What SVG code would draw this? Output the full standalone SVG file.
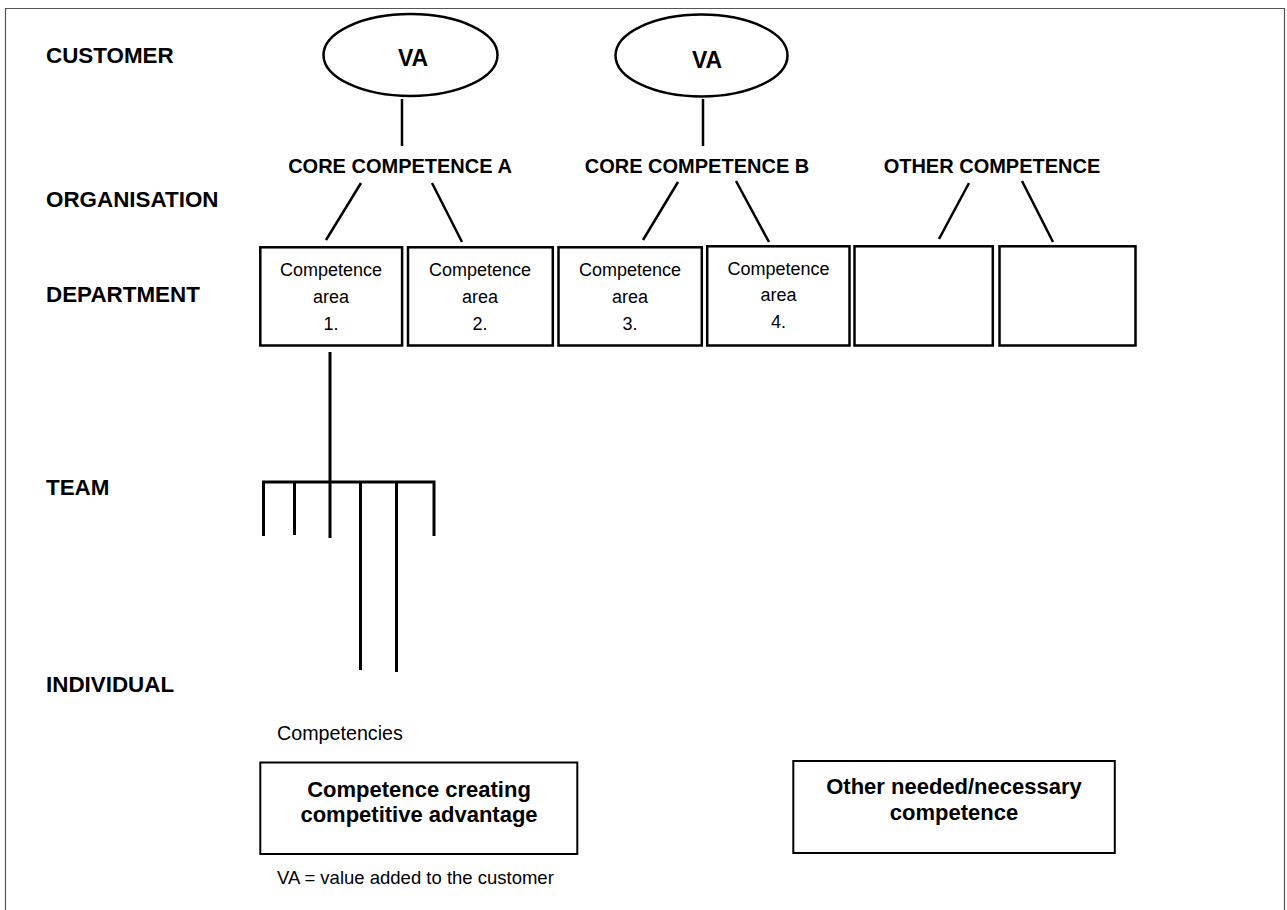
<svg xmlns="http://www.w3.org/2000/svg" width="1287" height="910" viewBox="0 0 1287 910">
  <style>
    .lbl { font-family: "Liberation Sans", Arial, sans-serif; font-weight: bold; font-size: 22.4px; fill: #000; }
    .hdr { font-family: "Liberation Sans", Arial, sans-serif; font-weight: bold; font-size: 20px; fill: #000; text-anchor: middle; }
    .va { font-family: "Liberation Sans", Arial, sans-serif; font-weight: bold; font-size: 23px; fill: #000; text-anchor: middle; }
    .area { font-family: "Liberation Sans", Arial, sans-serif; font-size: 18px; fill: #000; text-anchor: middle; }
    .note { font-family: "Liberation Sans", Arial, sans-serif; font-size: 18.5px; fill: #000; }
    .comp { font-family: "Liberation Sans", Arial, sans-serif; font-size: 19.7px; fill: #000; }
    .big { font-family: "Liberation Sans", Arial, sans-serif; font-weight: bold; font-size: 22px; fill: #000; text-anchor: middle; }
    .box { fill: #fff; stroke: #000; stroke-width: 2.5; }
    .bbox { fill: #fff; stroke: #000; stroke-width: 2; }
    .ell { fill: #fff; stroke: #000; stroke-width: 2.5; }
    .ln { stroke: #000; stroke-width: 2.5; fill: none; }
    .tl { stroke: #000; stroke-width: 3; fill: none; }
  </style>
  <rect x="0" y="0" width="1287" height="910" fill="#fff"/>
  <path d="M5.5 920 V8.5 H1284.5 V920" fill="none" stroke="#555" stroke-width="1.2"/>

  <g id="level-labels">
    <text class="lbl" x="46" y="63">CUSTOMER</text>
    <text class="lbl" x="46" y="207">ORGANISATION</text>
    <text class="lbl" x="46" y="302">DEPARTMENT</text>
    <text class="lbl" x="46" y="495">TEAM</text>
    <text class="lbl" x="46" y="692">INDIVIDUAL</text>
  </g>

  <g id="connectors">
    <line class="ln" x1="402" y1="99" x2="402" y2="146"/>
    <line class="ln" x1="703" y1="99" x2="703" y2="146"/>
    <line class="ln" x1="361" y1="183" x2="326" y2="240"/>
    <line class="ln" x1="432" y1="183" x2="462" y2="242"/>
    <line class="ln" x1="678" y1="182" x2="643" y2="240"/>
    <line class="ln" x1="736" y1="181" x2="769" y2="242"/>
    <line class="ln" x1="969" y1="183" x2="939" y2="239"/>
    <line class="ln" x1="1022" y1="181" x2="1053" y2="242"/>
    <line class="tl" x1="330" y1="352" x2="330" y2="482"/>
    <path class="tl" d="M263.5 536 V482 H434 V536"/>
    <line class="tl" x1="294.5" y1="482" x2="294.5" y2="535"/>
    <line class="tl" x1="330" y1="482" x2="330" y2="538"/>
    <line class="tl" x1="360.5" y1="482" x2="360.5" y2="670"/>
    <line class="tl" x1="396.5" y1="482" x2="396.5" y2="672"/>
  </g>

  <g id="va1">
    <ellipse class="ell" cx="410.5" cy="55" rx="87" ry="41"/>
    <text class="va" x="413" y="66">VA</text>
  </g>
  <g id="va2">
    <ellipse class="ell" cx="701.5" cy="55.5" rx="86" ry="41"/>
    <text class="va" x="707" y="68">VA</text>
  </g>

  <g id="core-a"><text class="hdr" x="400" y="173">CORE COMPETENCE A</text></g>
  <g id="core-b"><text class="hdr" x="697" y="173">CORE COMPETENCE B</text></g>
  <g id="other-comp"><text class="hdr" x="992" y="173">OTHER COMPETENCE</text></g>

  <g id="area1">
    <rect class="box" x="260.3" y="247.3" width="141.8" height="98.2"/>
    <text class="area" x="331" y="276">Competence</text>
    <text class="area" x="331" y="303">area</text>
    <text class="area" x="331" y="330">1.</text>
  </g>
  <g id="area2">
    <rect class="box" x="408" y="247.3" width="144.8" height="98.2"/>
    <text class="area" x="480" y="276">Competence</text>
    <text class="area" x="480" y="303">area</text>
    <text class="area" x="480" y="330">2.</text>
  </g>
  <g id="area3">
    <rect class="box" x="558.5" y="247.3" width="143.3" height="98.2"/>
    <text class="area" x="630" y="276">Competence</text>
    <text class="area" x="630" y="303">area</text>
    <text class="area" x="630" y="330">3.</text>
  </g>
  <g id="area4">
    <rect class="box" x="707.2" y="246.3" width="142.3" height="99.2"/>
    <text class="area" x="778.5" y="275">Competence</text>
    <text class="area" x="778.5" y="301">area</text>
    <text class="area" x="778.5" y="328">4.</text>
  </g>
  <g id="area5">
    <rect class="box" x="854.5" y="246.3" width="138.3" height="99.2"/>
  </g>
  <g id="area6">
    <rect class="box" x="999.5" y="246.3" width="136" height="99.2"/>
  </g>

  <g id="competencies-label">
    <text class="comp" x="277" y="740">Competencies</text>
  </g>

  <g id="legend-advantage">
    <rect class="bbox" x="260.3" y="762.5" width="317" height="91.5"/>
    <text class="big" x="419" y="797">Competence creating</text>
    <text class="big" x="419" y="822">competitive advantage</text>
  </g>
  <g id="legend-other">
    <rect class="bbox" x="793.3" y="761" width="321.5" height="92"/>
    <text class="big" x="954" y="794">Other needed/necessary</text>
    <text class="big" x="954" y="820">competence</text>
  </g>

  <g id="footnote">
    <text class="note" x="277" y="884">VA = value added to the customer</text>
  </g>
</svg>
